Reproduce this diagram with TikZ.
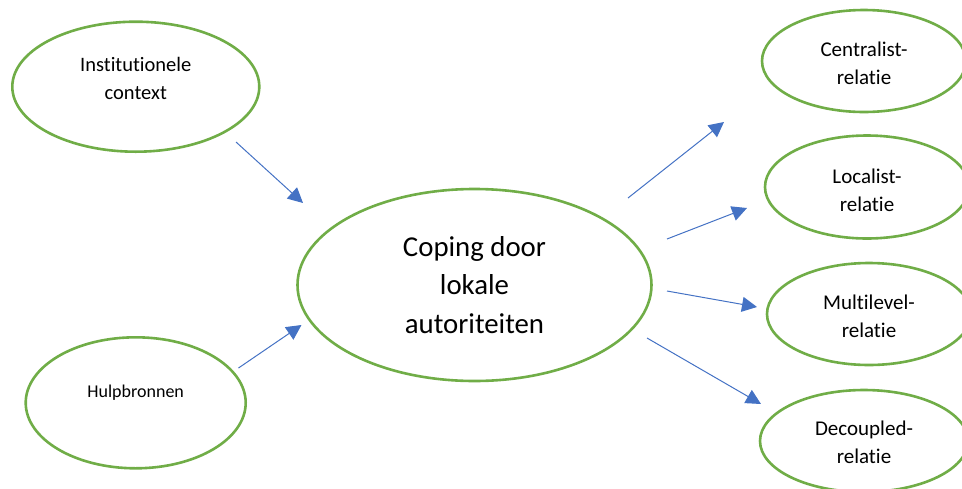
\documentclass[tikz,border=0pt]{standalone}
\usepackage{fontspec}
\setmainfont{Carlito}[Ligatures=NoCommon]
\usetikzlibrary{shapes.geometric,arrows.meta}

\definecolor{ovalgreen}{HTML}{70AD47}
\definecolor{arrowblue}{HTML}{4472C4}

\tikzset{
  oval/.style={ellipse, draw=ovalgreen, line width=2.6pt, inner sep=0pt, fill=white},
  lab/.style={align=center, text=black, inner sep=0pt},
  flow/.style={draw=arrowblue, line width=1pt, -{Triangle[length=15pt,width=15pt,fill=arrowblue]}},
  bigtxt/.style={font=\fontsize{28.8}{38.5}\selectfont},
  midtxt/.style={font=\fontsize{20.5}{28.3}\selectfont},
  smalltxt/.style={font=\fontsize{18}{24}\selectfont},
  sidetxt/.style={font=\fontsize{21}{28}\selectfont},
}

\begin{document}
\begin{tikzpicture}[x=1pt, y=-1pt]
  \useasboundingbox (0,0) rectangle (962,488);

  % left inputs
  \node[oval, minimum width=247pt, minimum height=130pt,
        label={[lab,midtxt,yshift=8pt]center:Institutionele\\context}] (inst) at (135.8,86.7) {};
  \node[oval, minimum width=220pt, minimum height=131pt,
        label={[lab,smalltxt,yshift=10pt]center:Hulpbronnen}] (hulp) at (135.7,402.8) {};

  % central process
  \node[oval, minimum width=354pt, minimum height=192pt,
        label={[lab,bigtxt]center:Coping door\\lokale\\autoriteiten}] (coping) at (474.5,285) {};

  % resulting relations
  \node[oval, minimum width=204pt, minimum height=102pt,
        label={[lab,sidetxt,yshift=-2.7pt]center:Centralist-\\relatie}] (central) at (864,61) {};
  \node[oval, minimum width=204pt, minimum height=103pt,
        label={[lab,sidetxt,yshift=-3pt]center:Localist-\\relatie}] (local) at (867,187) {};
  \node[oval, minimum width=204pt, minimum height=102pt,
        label={[lab,sidetxt,yshift=-2.5pt]center:Multilevel-\\relatie}] (multi) at (869,314) {};
  \node[oval, minimum width=208pt, minimum height=102pt,
        label={[lab,sidetxt,yshift=-1.5pt]center:Decoupled-\\relatie}] (decoup) at (864,441) {};

  % arrow end points
  \coordinate (instOut) at (236,142);
  \coordinate (copingInA) at (303,203);
  \coordinate (hulpOut) at (238.5,368);
  \coordinate (copingInB) at (301.5,325);
  \coordinate (outCentral) at (628,198);
  \coordinate (toCentral) at (724,122);
  \coordinate (outLocal) at (667,239);
  \coordinate (toLocal) at (747,208);
  \coordinate (outMulti) at (667,291);
  \coordinate (toMulti) at (757,307);
  \coordinate (outDecoup) at (647,338);
  \coordinate (toDecoup) at (761,404);

  \draw[flow] (instOut) -- (copingInA);
  \draw[flow] (hulpOut) -- (copingInB);
  \draw[flow] (outCentral) -- (toCentral);
  \draw[flow] (outLocal) -- (toLocal);
  \draw[flow] (outMulti) -- (toMulti);
  \draw[flow] (outDecoup) -- (toDecoup);
\end{tikzpicture}
\end{document}
